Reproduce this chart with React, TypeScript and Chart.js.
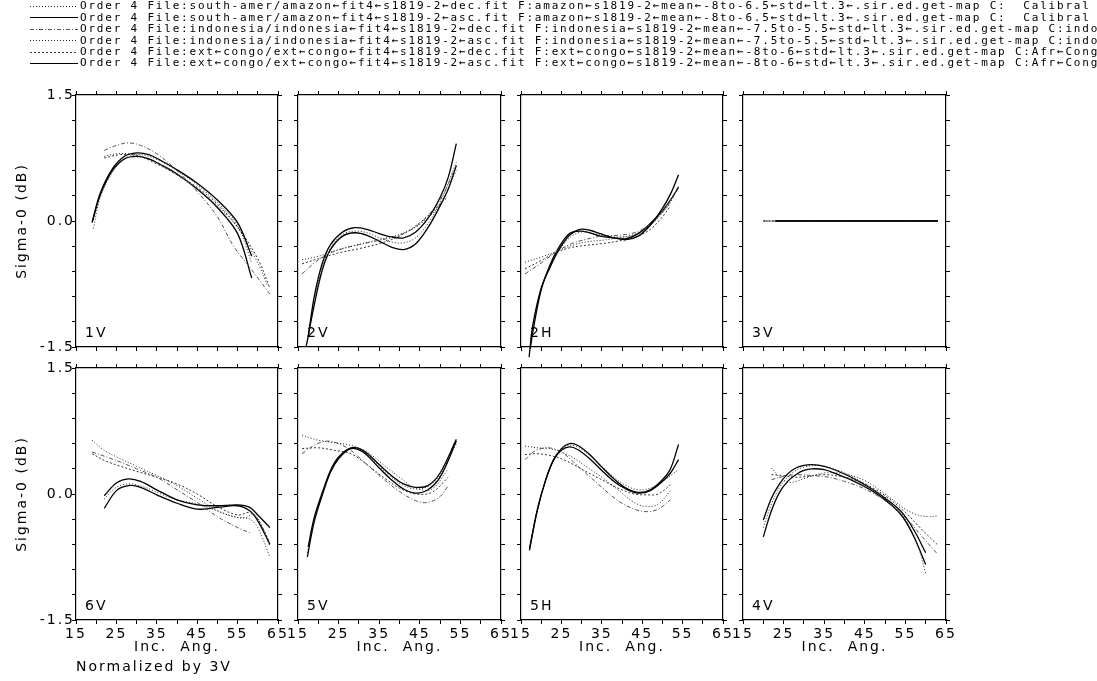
import React, { useEffect, useRef } from 'react';
import { Chart, registerables } from 'chart.js';

Chart.register(...registerables);

type Pt = [number, number];

// ---- legend / series ----
const seriesLabels: string[] = [
  'Order 4 File:south-amer/amazon←fit4←s1819-2←dec.fit F:amazon←s1819-2←mean←-8to-6.5←std←lt.3←.sir.ed.get-map C:  Calibral',
  'Order 4 File:south-amer/amazon←fit4←s1819-2←asc.fit F:amazon←s1819-2←mean←-8to-6.5←std←lt.3←.sir.ed.get-map C:  Calibral',
  'Order 4 File:indonesia/indonesia←fit4←s1819-2←dec.fit F:indonesia←s1819-2←mean←-7.5to-5.5←std←lt.3←.sir.ed.get-map C:indonesia',
  'Order 4 File:indonesia/indonesia←fit4←s1819-2←asc.fit F:indonesia←s1819-2←mean←-7.5to-5.5←std←lt.3←.sir.ed.get-map C:indonesia',
  'Order 4 File:ext←congo/ext←congo←fit4←s1819-2←dec.fit F:ext←congo←s1819-2←mean←-8to-6←std←lt.3←.sir.ed.get-map C:Afr←Congo',
  'Order 4 File:ext←congo/ext←congo←fit4←s1819-2←asc.fit F:ext←congo←s1819-2←mean←-8to-6←std←lt.3←.sir.ed.get-map C:Afr←Congo',
];
const seriesDash: number[][] = [[1, 2], [], [4, 2, 1, 2], [1, 2], [2, 2], []];
const seriesColor: string[] = ['#222', '#000', '#555', '#222', '#333', '#000'];
const seriesWidth: number[] = [1, 1.3, 1, 1, 1, 1.3];

// ---- panels ----
const panelNames: string[] = ['1V', '2V', '2H', '3V', '6V', '5V', '5H', '4V'];
const xMin = 15, xMax = 65, xStep = 5;
const yMin = -1.5, yMax = 1.5, yStep = 0.3;
const xLabelValues: number[] = [15, 25, 35, 45, 55, 65];
const yLabelValues: number[] = [1.5, 0, -1.5];
const yLabelTexts: string[] = ['1.5', '0.0', '-1.5'];

// series order: amazon dec, amazon asc, indonesia dec, indonesia asc, congo dec, congo asc
const p1V: Pt[][] = [
  [[22, 0.77], [25, 0.8], [28, 0.8], [32, 0.76], [36, 0.67], [40, 0.55], [45, 0.38], [50, 0.18], [55, -0.08], [60, -0.5], [62.5, -0.78]],
  [[19, -0.01], [21, 0.33], [24, 0.62], [27, 0.77], [30, 0.81], [33, 0.79], [36, 0.72], [40, 0.61], [45, 0.45], [50, 0.25], [55, -0.02], [58.5, -0.42]],
  [[22, 0.84], [25, 0.9], [28, 0.93], [31, 0.9], [35, 0.8], [40, 0.6], [45, 0.35], [50, 0.05], [54, -0.3], [58, -0.55], [63, -0.87]],
  [[19.3, -0.09], [21, 0.28], [24, 0.58], [27, 0.74], [30, 0.79], [33, 0.77], [36, 0.71], [40, 0.6], [45, 0.43], [50, 0.22], [55, -0.05], [58.5, -0.5]],
  [[22, 0.75], [26, 0.79], [30, 0.78], [35, 0.68], [40, 0.55], [45, 0.4], [50, 0.2], [55, -0.07], [60, -0.45], [63, -0.8]],
  [[19, -0.02], [21, 0.31], [24, 0.6], [27, 0.74], [30, 0.77], [33, 0.74], [36, 0.67], [40, 0.56], [45, 0.38], [50, 0.16], [55, -0.15], [58.5, -0.68]],
];
const p2V: Pt[][] = [
  [[16, -0.46], [20, -0.42], [25, -0.34], [30, -0.28], [35, -0.22], [40, -0.16], [45, -0.04], [50, 0.2], [54, 0.6]],
  [[17.5, -1.38], [19, -0.9], [21, -0.5], [23, -0.28], [26, -0.13], [29, -0.08], [32, -0.1], [35, -0.15], [38, -0.19], [41, -0.2], [44, -0.13], [47, 0.03], [50, 0.28], [52, 0.52], [54, 0.92]],
  [[16, -0.63], [19, -0.5], [22, -0.4], [26, -0.33], [30, -0.28], [35, -0.23], [40, -0.17], [45, -0.03], [50, 0.25], [54, 0.66]],
  [[17.3, -1.45], [19, -0.95], [21, -0.55], [23, -0.32], [26, -0.16], [29, -0.12], [32, -0.14], [35, -0.2], [38, -0.25], [41, -0.26], [44, -0.2], [47, -0.03], [50, 0.22], [54, 0.7]],
  [[16, -0.51], [20, -0.45], [25, -0.38], [30, -0.33], [35, -0.27], [40, -0.18], [45, -0.02], [50, 0.2], [51.5, 0.27]],
  [[17, -1.5], [19, -1.0], [21, -0.58], [23, -0.34], [26, -0.18], [29, -0.14], [32, -0.17], [35, -0.24], [38, -0.31], [41, -0.34], [44, -0.27], [47, -0.08], [50, 0.18], [52, 0.38], [54, 0.66]],
];
const p2H: Pt[][] = [
  [[16, -0.49], [20, -0.43], [23.4, -0.37], [27, -0.3], [31, -0.25], [35, -0.23], [39, -0.2], [43, -0.16], [47, -0.05], [50, 0.1], [52, 0.22]],
  [[17, -1.62], [18, -1.22], [20, -0.8], [22.2, -0.55], [24.3, -0.35], [27, -0.17], [29.6, -0.1], [32, -0.11], [34.6, -0.15], [38, -0.2], [41, -0.22], [44, -0.18], [47, -0.05], [50, 0.15], [52, 0.32], [54, 0.55]],
  [[16, -0.63], [20, -0.5], [23.4, -0.38], [27, -0.28], [31, -0.22], [35, -0.18], [39, -0.17], [43, -0.14], [47, -0.04], [50, 0.12], [52, 0.25]],
  [[17.3, -1.4], [20, -0.8], [22, -0.55], [24, -0.38], [27, -0.2], [30, -0.13], [33, -0.15], [36, -0.18], [40, -0.19], [44, -0.15], [47, -0.05], [50, 0.1], [52, 0.22], [54, 0.42]],
  [[16, -0.57], [20, -0.47], [23.4, -0.38], [27, -0.32], [31, -0.29], [35, -0.27], [39, -0.24], [43, -0.2], [47, -0.1], [50, 0.05], [52, 0.18]],
  [[17.3, -1.52], [18, -1.3], [20, -0.82], [22.2, -0.52], [24.3, -0.32], [27, -0.15], [29.6, -0.12], [32, -0.14], [34.6, -0.18], [38, -0.2], [41, -0.21], [44, -0.15], [47, -0.03], [50, 0.12], [52, 0.25], [54, 0.4]],
];
const p3V: Pt[][] = [
  [[20, 0], [63, 0]],
  [[23, 0], [63, 0]],
  [[20, 0], [63, 0]],
  [[23, 0], [63, 0]],
  [[20, 0], [63, 0]],
  [[23, 0], [63, 0]],
];
const p6V: Pt[][] = [
  [[19, 0.64], [22, 0.52], [26, 0.42], [30, 0.33], [35, 0.22], [40, 0.1], [45, -0.05], [50, -0.2], [55, -0.28], [58, -0.3], [60, -0.4], [63, -0.75]],
  [[22, -0.02], [25, 0.13], [28, 0.18], [31, 0.15], [35, 0.05], [40, -0.07], [45, -0.13], [50, -0.14], [55, -0.13], [58, -0.16], [60, -0.25], [63, -0.4]],
  [[19, 0.5], [22, 0.45], [26, 0.38], [30, 0.3], [35, 0.2], [40, 0.05], [45, -0.1], [50, -0.27], [55, -0.4], [58, -0.46]],
  [[22, -0.06], [25, 0.08], [28, 0.12], [32, 0.08], [36, 0.0], [40, -0.07], [45, -0.12], [50, -0.2], [54, -0.27], [57, -0.28], [59, -0.24], [61, -0.38], [63, -0.62]],
  [[19, 0.48], [22, 0.4], [26, 0.33], [30, 0.27], [35, 0.2], [40, 0.12], [45, 0.0], [50, -0.15], [55, -0.25], [58, -0.22], [60, -0.3], [63, -0.58]],
  [[22, -0.17], [25, 0.04], [28, 0.1], [31, 0.08], [35, -0.01], [40, -0.11], [45, -0.18], [50, -0.16], [55, -0.14], [58, -0.2], [60, -0.32], [63, -0.6]],
];
const p5V: Pt[][] = [
  [[16, 0.7], [20, 0.64], [24, 0.61], [28, 0.58], [32, 0.5], [36, 0.35], [40, 0.2], [44, 0.07], [48, 0.06], [52, 0.3]],
  [[17.3, -0.75], [19, -0.33], [21, -0.01], [23, 0.26], [25, 0.42], [28, 0.54], [31, 0.5], [35, 0.31], [38, 0.17], [41, 0.06], [44, 0.01], [47, 0.05], [50, 0.2], [54, 0.63]],
  [[16, 0.48], [19, 0.58], [22, 0.63], [25, 0.6], [28, 0.52], [32, 0.35], [36, 0.18], [40, 0.03], [44, -0.08], [47, -0.1], [50, -0.03], [52, 0.1]],
  [[17.3, -0.7], [19, -0.3], [21, 0.0], [23, 0.27], [25, 0.43], [28, 0.54], [31, 0.5], [35, 0.33], [38, 0.2], [41, 0.1], [44, 0.06], [47, 0.09], [50, 0.22], [54, 0.6]],
  [[16, 0.54], [20, 0.55], [24, 0.52], [28, 0.48], [32, 0.35], [36, 0.2], [40, 0.07], [44, 0.0], [48, 0.02], [52, 0.2]],
  [[17.5, -0.63], [19, -0.28], [21, 0.02], [23, 0.28], [25, 0.44], [28, 0.55], [31, 0.52], [35, 0.35], [38, 0.22], [41, 0.12], [44, 0.08], [47, 0.1], [50, 0.25], [54, 0.65]],
];
const p5H: Pt[][] = [
  [[16, 0.57], [19, 0.55], [22, 0.54], [25, 0.5], [28, 0.43], [31, 0.33], [35, 0.2], [39, 0.05], [43, -0.1], [46, -0.15], [49, -0.12], [52, 0.04]],
  [[17.1, -0.67], [19, -0.2], [21, 0.15], [23, 0.4], [25, 0.54], [27, 0.6], [29, 0.58], [32, 0.47], [35, 0.32], [38, 0.18], [41, 0.07], [44, 0.02], [47, 0.05], [50, 0.17], [52, 0.3], [54, 0.59]],
  [[16, 0.41], [18, 0.5], [20, 0.54], [22, 0.55], [25, 0.5], [28, 0.38], [31, 0.25], [35, 0.08], [39, -0.08], [43, -0.18], [46, -0.21], [49, -0.18], [52, -0.07]],
  [[17.3, -0.6], [19, -0.18], [21, 0.15], [23, 0.4], [25, 0.53], [27, 0.58], [29, 0.56], [32, 0.46], [35, 0.33], [38, 0.2], [41, 0.1], [44, 0.05], [47, 0.07], [50, 0.15], [54, 0.29]],
  [[16, 0.47], [19, 0.48], [22, 0.46], [25, 0.42], [28, 0.35], [31, 0.27], [35, 0.17], [39, 0.07], [43, 0.0], [46, -0.01], [49, 0.0], [52, 0.11]],
  [[17.1, -0.65], [19, -0.2], [21, 0.15], [23, 0.4], [25, 0.52], [27, 0.56], [29, 0.53], [32, 0.42], [35, 0.28], [38, 0.15], [41, 0.06], [44, 0.01], [47, 0.04], [50, 0.15], [52, 0.25], [54, 0.41]],
];
const p4V: Pt[][] = [
  [[22, 0.31], [24, 0.2], [26, 0.14], [28, 0.15], [31, 0.2], [35, 0.25], [40, 0.24], [45, 0.16], [50, 0.0], [55, -0.18], [58, -0.25], [61, -0.27], [62.8, -0.26]],
  [[20, -0.31], [22, -0.05], [24, 0.12], [26, 0.24], [28, 0.31], [30, 0.34], [32, 0.35], [35, 0.33], [38, 0.28], [42, 0.19], [46, 0.08], [50, -0.05], [54, -0.21], [57, -0.42], [60, -0.7]],
  [[22, 0.17], [25, 0.21], [28, 0.23], [32, 0.22], [36, 0.2], [40, 0.15], [45, 0.06], [50, -0.08], [55, -0.28], [59, -0.5], [62.8, -0.71]],
  [[20, -0.4], [22, -0.12], [24, 0.08], [26, 0.2], [28, 0.28], [30, 0.32], [33, 0.34], [36, 0.32], [40, 0.25], [44, 0.15], [48, 0.03], [52, -0.12], [55, -0.3], [58, -0.6], [60, -0.95]],
  [[22, 0.23], [25, 0.22], [28, 0.2], [31, 0.21], [35, 0.23], [40, 0.2], [45, 0.12], [50, -0.02], [55, -0.22], [59, -0.42], [62.8, -0.6]],
  [[20, -0.51], [22, -0.2], [24, 0.02], [26, 0.15], [28, 0.23], [30, 0.28], [32, 0.3], [35, 0.29], [38, 0.24], [42, 0.16], [46, 0.06], [50, -0.07], [54, -0.25], [57, -0.5], [60, -0.84]],
];
const panelData: Pt[][][] = [p1V, p2V, p2H, p3V, p6V, p5V, p5H, p4V];

// ---- layout (pixels) ----
const colLeft = [76, 298, 521, 743];
const colRight = [278, 501, 723, 946];
const rowTop = [95, 368];
const rowBottom = [347, 620];

const FONT = '"DejaVu Sans", sans-serif';
const SPACING = '2px';

const spacingPlugin = {
  id: 'letterSpacing',
  beforeUpdate(chart: any) { chart.ctx.letterSpacing = SPACING; },
  beforeDraw(chart: any) { chart.ctx.letterSpacing = SPACING; },
};

const panelLabelPlugin = {
  id: 'panelLabel',
  afterDraw(chart: any, _args: any, opts: any) {
    const ctx = chart.ctx;
    const a = chart.chartArea;
    ctx.save();
    ctx.letterSpacing = SPACING;
    ctx.font = `14px ${FONT}`;
    ctx.fillStyle = '#000';
    ctx.textAlign = 'left';
    ctx.textBaseline = 'middle';
    ctx.fillText(opts.text, a.left + 9, a.bottom - 14);
    if (opts.note) {
      ctx.fillText(opts.note, a.left, opts.noteY);
    }
    ctx.restore();
  },
};

function geometry(idx: number) {
  const row = Math.floor(idx / 4);
  const col = idx % 4;
  const cx = col === 0 ? 0 : colLeft[col] - 20;
  const cw = colRight[col] + 20 - cx;
  const cy = row === 0 ? 80 : 355;
  const ch = row === 0 ? 280 : 326;
  return {
    row, col, cx, cy, cw, ch,
    L: colLeft[col] - cx,
    R: cx + cw - colRight[col],
    T: rowTop[row] - cy,
    B: cy + ch - rowBottom[row],
  };
}

function makeConfig(idx: number): any {
  const g = geometry(idx);
  const series = panelData[idx];
  const tickFont = { family: FONT, size: 14 };
  const gridOpts = { drawOnChartArea: false, drawTicks: true, tickLength: 4, color: '#000', lineWidth: 1 };
  const borderOpts = { display: true, color: '#000', width: 1.2 };
  return {
    type: 'line',
    data: {
      datasets: series.map((pts, s) => ({
        label: seriesLabels[s],
        data: pts.map(([x, y]) => ({ x, y })),
        borderColor: seriesColor[s],
        borderWidth: seriesWidth[s],
        borderDash: seriesDash[s],
        pointRadius: 0,
        tension: 0.35,
        fill: false,
        clip: false,
      })),
    },
    options: {
      animation: false,
      responsive: false,
      events: [],
      layout: { padding: 0 },
      plugins: {
        legend: { display: false },
        tooltip: { enabled: false },
        panelLabel: {
          text: panelNames[idx],
          note: idx === 4 ? 'Normalized by 3V' : '',
          noteY: 667 - g.cy,
        },
      },
      scales: {
        x: {
          type: 'linear', position: 'bottom', min: xMin, max: xMax,
          afterFit: (s: any) => { s.height = g.B; },
          ticks: {
            display: g.row === 1, stepSize: xStep, autoSkip: false, maxRotation: 0, padding: 2,
            color: '#000', font: tickFont,
            callback: (v: number) => (xLabelValues.some((t) => Math.abs(t - v) < 1e-6) ? String(Math.round(v)) : ''),
          },
          grid: gridOpts,
          border: borderOpts,
          title: {
            display: g.row === 1, text: 'Inc.  Ang.', color: '#000', font: tickFont,
            padding: { top: 0, bottom: 25 },
          },
        },
        x2: {
          type: 'linear', position: 'top', min: xMin, max: xMax,
          afterFit: (s: any) => { s.height = g.T; },
          ticks: { display: false, stepSize: xStep, autoSkip: false },
          grid: gridOpts,
          border: borderOpts,
        },
        y: {
          type: 'linear', position: 'left', min: yMin, max: yMax,
          afterFit: (s: any) => { s.width = g.L; },
          ticks: {
            display: g.col === 0, stepSize: yStep, autoSkip: false, padding: -3,
            color: '#000', font: tickFont,
            callback: (v: number) => {
              const k = yLabelValues.findIndex((t) => Math.abs(t - v) < 1e-6);
              return k >= 0 ? yLabelTexts[k] : '';
            },
          },
          grid: gridOpts,
          border: borderOpts,
          title: {
            display: g.col === 0, text: 'Sigma-0 (dB)', color: '#000', font: tickFont,
            padding: { top: 14, bottom: 0 },
          },
        },
        y2: {
          type: 'linear', position: 'right', min: yMin, max: yMax,
          afterFit: (s: any) => { s.width = g.R; },
          ticks: { display: false, stepSize: yStep, autoSkip: false },
          grid: gridOpts,
          border: borderOpts,
        },
      },
    },
    plugins: [spacingPlugin, panelLabelPlugin],
  };
}

function Panel({ idx }: { idx: number }) {
  const ref = useRef<HTMLCanvasElement | null>(null);
  const g = geometry(idx);
  useEffect(() => {
    if (!ref.current) return;
    const chart = new Chart(ref.current, makeConfig(idx));
    return () => chart.destroy();
  }, [idx]);
  return (
    <canvas
      ref={ref}
      width={g.cw}
      height={g.ch}
      style={{ position: 'absolute', left: g.cx, top: g.cy, width: g.cw, height: g.ch }}
    />
  );
}

function Legend() {
  const ref = useRef<HTMLCanvasElement | null>(null);
  useEffect(() => {
    const c = ref.current;
    if (!c) return;
    const ctx = c.getContext('2d') as any;
    ctx.clearRect(0, 0, c.width, c.height);
    seriesLabels.forEach((text, i) => {
      const y = 6 + i * 11.4;
      ctx.save();
      ctx.strokeStyle = seriesColor[i];
      ctx.lineWidth = 1;
      ctx.setLineDash(seriesDash[i]);
      ctx.beginPath();
      ctx.moveTo(30, Math.round(y) + 0.5);
      ctx.lineTo(78, Math.round(y) + 0.5);
      ctx.stroke();
      ctx.restore();
      ctx.save();
      ctx.letterSpacing = '1.8px';
      ctx.font = '11px "DejaVu Sans Mono", monospace';
      ctx.fillStyle = '#000';
      ctx.textBaseline = 'middle';
      ctx.textAlign = 'left';
      ctx.fillText(text, 80, y + 0.5);
      ctx.restore();
    });
  }, []);
  return (
    <canvas
      ref={ref}
      width={1097}
      height={78}
      style={{ position: 'absolute', left: 0, top: 0, width: 1097, height: 78 }}
    />
  );
}

export default function App() {
  return (
    <div
      style={{
        position: 'absolute', left: 0, top: 0, width: 1097, height: 681,
        background: '#fff', overflow: 'hidden',
      }}
    >
      <Legend />
      {panelNames.map((_, i) => (
        <Panel key={i} idx={i} />
      ))}
    </div>
  );
}
